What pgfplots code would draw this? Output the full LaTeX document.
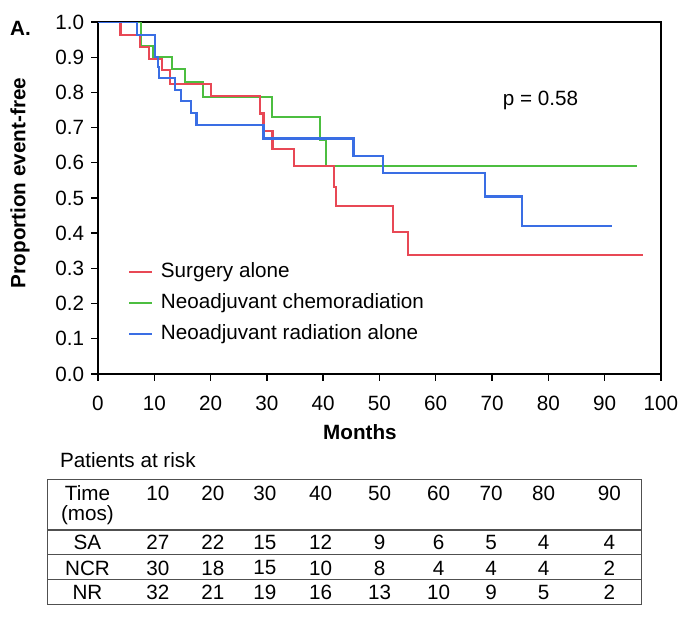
\documentclass[border=0pt]{standalone}
\usepackage{pgfplots}
\pgfplotsset{compat=1.18}
\usepackage{fontspec}
\setmainfont{Liberation Sans}
\definecolor{cred}{RGB}{232,72,85}
\definecolor{cgreen}{RGB}{76,190,64}
\definecolor{cblue}{RGB}{58,110,228}
\definecolor{tline}{RGB}{80,80,80}
\newcommand{\fs}{\fontsize{15.5}{18}\selectfont}
\begin{document}
\fs
\begin{tikzpicture}
\begin{scope}[x=0.75pt,y=-0.75pt]
\path[use as bounding box] (0,0) rectangle (685,622);
\end{scope}
\begin{axis}[
  at={(73.5pt,-280.5pt)}, anchor=south west,
  scale only axis, width=422.25pt, height=264pt,
  xmin=0, xmax=100, ymin=0, ymax=1,
  xtick={0,10,20,30,40,50,60,70,80,90,100},
  ytick={0,0.1,0.2,0.3,0.4,0.5,0.6,0.7,0.8,0.9,1.0},
  tick align=outside, xtick pos=bottom, ytick pos=left,
  major tick length=5pt,
  axis line style={line width=1pt},
  every tick/.style={line width=1pt, black},
  yticklabel style={/pgf/number format/.cd, fixed, fixed zerofill, precision=1},
  xticklabel shift={6pt},
  /pgf/number format/assume math mode=true,
  tick label style={font=\fs},
  legend style={at={(0.053,0.324)}, anchor=north west, draw=none, fill=none,
    font=\fs, row sep=5.6pt, inner sep=0pt,
    /tikz/every odd column/.append style={column sep=4pt}},
  legend cell align=left,
  km/.style={line width=1.6pt, mark=none, const plot, forget plot},
]
\addlegendimage{line width=1.6pt, color=cred}
\addlegendentry{Surgery alone}
\addlegendimage{line width=1.6pt, color=cgreen}
\addlegendentry{Neoadjuvant chemoradiation}
\addlegendimage{line width=1.6pt, color=cblue}
\addlegendentry{Neoadjuvant radiation alone}
% Neoadjuvant chemoradiation
\addplot[km, color=cgreen] coordinates {
(0,1) (7.6,0.932) (9.8,0.900) (13.1,0.866) (15.5,0.830) (18.7,0.786)
(30.9,0.729) (39.4,0.665) (40.5,0.592) (95.7,0.592)};
% Surgery alone
\addplot[km, color=cred] coordinates {
(0,1) (4.0,0.963) (7.5,0.928) (9.1,0.896) (11.3,0.863) (12.8,0.824)
(20.1,0.790) (28.8,0.740) (29.4,0.690) (31.0,0.640) (34.9,0.592)
(41.9,0.532) (42.3,0.477) (52.4,0.404) (55.0,0.337) (96.9,0.337)};
% Neoadjuvant radiation alone
\addplot[km, color=cblue] coordinates {
(0,1) (6.9,0.963) (10.1,0.900) (10.6,0.873) (10.9,0.840) (13.7,0.807)
(14.7,0.775) (16.5,0.742) (17.5,0.708) (29.4,0.669) (45.4,0.619)
(50.7,0.570) (68.7,0.504) (75.4,0.420) (91.4,0.420)};
\node at (axis cs:78.6,0.778) {p = 0.58};
\end{axis}
\begin{scope}[x=0.75pt,y=-0.75pt]
\node[anchor=west, font=\fs\bfseries] at (3,28) {A.};
\node[font=\fs\bfseries] at (360,432) {Months};
\node[font=\fs\bfseries, rotate=90] at (20,183) {Proportion event-free};
\node[anchor=base west] at (53,468) {Patients at risk};
\draw[tline, line width=0.9pt] (47.3,479.3) rectangle (642,604.3);
\draw[tline, line width=0.9pt] (47.3,530) -- (642,530);
\draw[tline, line width=0.9pt] (47.3,554.3) -- (642,554.3);
\draw[tline, line width=0.9pt] (47.3,580) -- (642,580);
\node at (87.5,493) {Time};
\node at (87.5,515.5) {(mos)};
\node at (87.5,542.5) {SA};
\node at (87.5,568) {NCR};
\node at (87.5,592.5) {NR};
\foreach \x/\t/\a/\b/\c in {158/10/27/30/32, 213/20/22/18/21, 265/30/15/15/19, 320.7/40/12/10/16, 379.8/50/9/8/13, 438.8/60/6/4/10, 491.3/70/5/4/9, 543.8/80/4/4/5, 609.4/90/4/2/2}{
  \node at (\x,493) {\t};
  \node at (\x,542.5) {\a};
  \node at (\x,568) {\b};
  \node at (\x,592.5) {\c};
}
\end{scope}
\end{tikzpicture}
\end{document}
